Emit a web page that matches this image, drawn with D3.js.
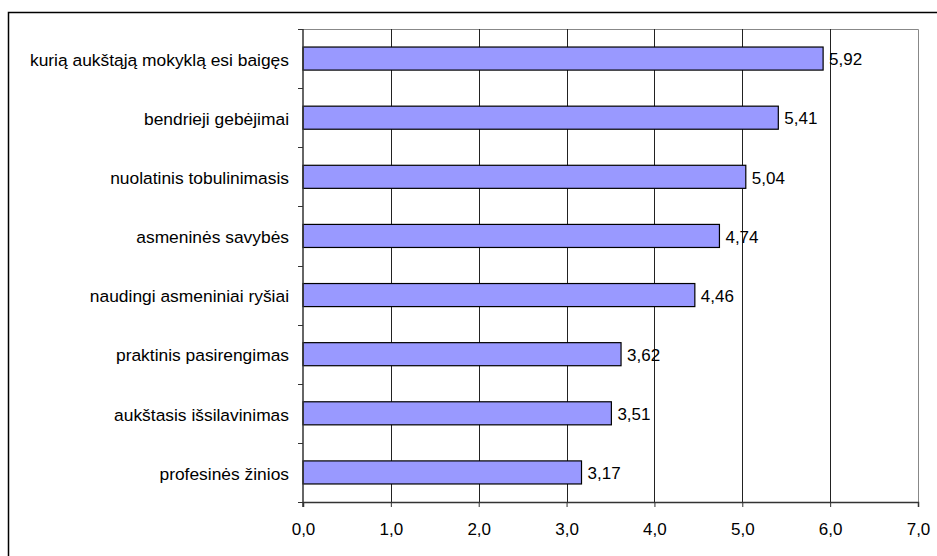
<!DOCTYPE html>
<html>
<head>
<meta charset="utf-8">
<script src="https://cdn.jsdelivr.net/npm/d3@7"></script>
<style>
  html, body { margin: 0; padding: 0; background: #fff; }
  svg { display: block; }
  text { font-family: "Liberation Sans", Arial, sans-serif; font-size: 17px; fill: #000; }
</style>
</head>
<body>
<svg id="chart" width="937" height="556"></svg>
<script>
// Factors ranked by average score
const categories = [
  "kurią aukštąją mokyklą esi baigęs",
  "bendrieji gebėjimai",
  "nuolatinis tobulinimasis",
  "asmeninės savybės",
  "naudingi asmeniniai ryšiai",
  "praktinis pasirengimas",
  "aukštasis išsilavinimas",
  "profesinės žinios"
];
const values = [5.92, 5.41, 5.04, 4.74, 4.46, 3.62, 3.51, 3.17];
const xTicks = [0, 1, 2, 3, 4, 5, 6, 7];

const svg = d3.select("#chart");
const fmt = v => v.toFixed(2).replace(".", ",");
const fmtTick = v => v.toFixed(1).replace(".", ",");
const FONT = "Liberation Sans, Arial, sans-serif";

// outer frame (runs off the right and bottom edges)
svg.append("rect")
  .attr("x", 8.5).attr("y", 12.5)
  .attr("width", 960).attr("height", 600)
  .attr("fill", "none").attr("stroke", "#000").attr("stroke-width", 1.5);

const plotL = 303, plotR = 918, plotT = 29, plotB = 502;

const x = d3.scaleLinear().domain([0, 7]).range([plotL, plotR]);
const y = d3.scaleBand().domain(categories).range([plotT, plotB])
  .paddingInner(0.61).paddingOuter(0.305);
const yb = d3.scaleBand().domain(categories).range([plotT, plotB]);

// plot area border (top and right)
svg.append("path")
  .attr("d", `M${plotL},${plotT + 0.5}H${plotR + 0.5}V${plotB}`)
  .attr("fill", "none").attr("stroke", "#888").attr("stroke-width", 1);

// vertical gridlines
svg.append("g").selectAll("line")
  .data(xTicks.filter(t => t > 0 && t < 7))
  .join("line")
  .attr("x1", d => Math.round(x(d)) + 0.5).attr("x2", d => Math.round(x(d)) + 0.5)
  .attr("y1", plotT).attr("y2", plotB)
  .attr("stroke", "#222").attr("stroke-width", 1);

// bars
svg.append("g").selectAll("rect")
  .data(values)
  .join("rect")
  .attr("x", x(0))
  .attr("y", (d, i) => y(categories[i]))
  .attr("width", d => x(d) - x(0))
  .attr("height", y.bandwidth())
  .attr("fill", "#9999FF")
  .attr("stroke", "#000").attr("stroke-width", 1.2);

// value labels
svg.append("g").selectAll("text")
  .data(values)
  .join("text")
  .attr("x", d => x(d) + 6)
  .attr("y", (d, i) => y(categories[i]) + y.bandwidth() / 2)
  .attr("dy", "0.4em")
  .text(d => fmt(d));

// x axis
const xAxis = d3.axisBottom(x).tickValues(xTicks).tickFormat(fmtTick).tickSize(5).tickPadding(16);
const gx = svg.append("g").attr("transform", `translate(0,${plotB})`).call(xAxis);
gx.select(".domain").attr("stroke", "#333").attr("stroke-width", 1.5);
gx.selectAll(".tick line").attr("stroke", "#333");
gx.selectAll("text").style("font-family", FONT).style("font-size", "17px").attr("fill", "#000");

// y axis: ticks at category boundaries
svg.append("line")
  .attr("x1", plotL).attr("x2", plotL).attr("y1", plotT).attr("y2", plotB + 5)
  .attr("stroke", "#333").attr("stroke-width", 1.5);
const bounds = categories.map(c => yb(c)).concat([plotB]);
svg.append("g").selectAll("line")
  .data(bounds)
  .join("line")
  .attr("x1", plotL - 5).attr("x2", plotL)
  .attr("y1", d => Math.round(d) + 0.5).attr("y2", d => Math.round(d) + 0.5)
  .attr("stroke", "#333");

// category labels
svg.append("g").selectAll("text")
  .data(categories)
  .join("text")
  .attr("x", 289)
  .attr("y", d => yb(d) + yb.bandwidth() / 2)
  .attr("dy", "0.42em")
  .attr("text-anchor", "end")
  .style("font-size", "17.4px")
  .text(d => d);
</script>
</body>
</html>
